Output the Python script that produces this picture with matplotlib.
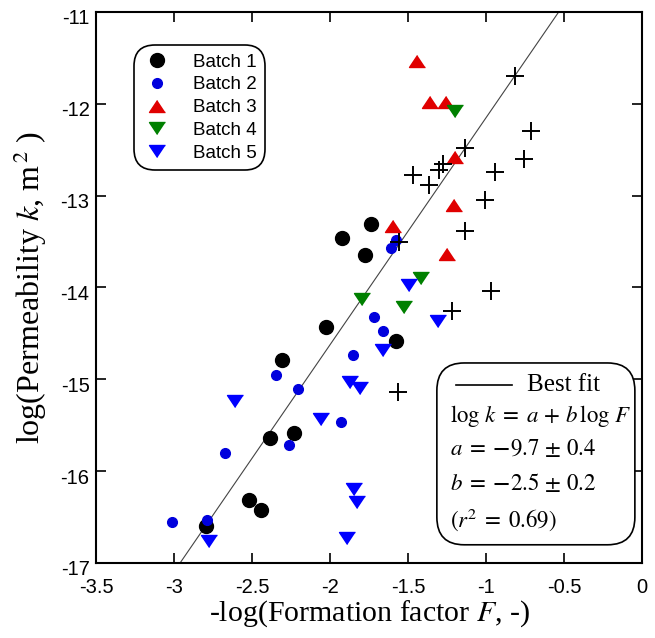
import matplotlib
matplotlib.use('Agg')
import matplotlib.pyplot as plt
from matplotlib.patches import FancyBboxPatch
from matplotlib.transforms import ScaledTranslation

plt.rcParams['font.family'] = ['Liberation Sans', 'DejaVu Sans']
plt.rcParams['mathtext.fontset'] = 'stix'

# Data (x = -log F, y = log k)
b1_x = [-1.740, -1.922, -1.776, -2.027, -1.580, -2.310, -2.386, -2.233, -2.523, -2.447, -2.797]
b1_y = [-13.31, -13.46, -13.65, -14.43, -14.58, -14.79, -15.64, -15.59, -16.31, -16.42, -16.60]

b2_x = [-1.580, -1.610, -1.717, -1.662, -1.856, -2.345, -2.210, -1.929, -2.265, -2.678, -2.790, -3.018]
b2_y = [-13.48, -13.57, -14.32, -14.47, -14.74, -14.95, -15.11, -15.47, -15.72, -15.80, -16.53, -16.55]

b3_x = [-1.445, -1.358, -1.256, -1.199, -1.203, -1.598, -1.251]
b3_y = [-11.53, -11.98, -11.98, -12.58, -13.10, -13.33, -13.64]

b4_x = [-1.199, -1.416, -1.799, -1.530]
b4_y = [-12.08, -13.90, -14.13, -14.21]

b5_x = [-1.495, -1.306, -1.662, -1.872, -1.808, -2.610, -2.062, -1.849, -1.831, -1.895, -2.781]
b5_y = [-13.97, -14.37, -14.68, -15.03, -15.09, -15.24, -15.43, -16.19, -16.34, -16.73, -16.76]

other_x = [-0.817, -0.712, -1.137, -0.758, -1.466, -1.301, -1.279, -1.365, -0.941, -1.005,
           -1.137, -1.557, -0.966, -1.221, -1.568]
other_y = [-11.70, -12.30, -12.48, -12.60, -12.78, -12.72, -12.66, -12.88, -12.74, -13.05,
           -13.39, -13.50, -14.04, -14.26, -15.14]

# drawn fit line: log k = a + b * x
line_a = -9.68
line_b = 2.47
line_x = [-3.1, -0.4]

xticks = [-3.5, -3, -2.5, -2, -1.5, -1, -0.5, 0]
xtick_labels = ['-3.5', '-3', '-2.5', '-2', '-1.5', '-1', '-0.5', '0']
yticks = [-17, -16, -15, -14, -13, -12, -11]
ytick_labels = ['-17', '-16', '-15', '-14', '-13', '-12', '-11']

# slightly flattened triangles like the reference
tri_up = [(0, 0.75), (-1, -0.75), (1, -0.75)]
tri_dn = [(0, -0.75), (-1, 0.75), (1, 0.75)]

fig = plt.figure(figsize=(6.55, 6.38), dpi=100)
ax = fig.add_axes([0.1473, 0.1176, 0.8328, 0.8636])

ax.plot(line_x, [line_a + line_b * v for v in line_x], color='#444444', lw=0.8, zorder=1)

ax.plot(b1_x, b1_y, 'o', color='black', ms=10, ls='none', label='Batch 1', zorder=3)
ax.plot(b2_x, b2_y, 'o', color='#0000dd', ms=7, ls='none', label='Batch 2', zorder=3)
ax.plot(b3_x, b3_y, marker=tri_up, color='#e00000', ms=11.5, ls='none', label='Batch 3', zorder=3)
ax.plot(b4_x, b4_y, marker=tri_dn, color='#008000', ms=11.5, ls='none', label='Batch 4', zorder=3)
ax.plot(b5_x, b5_y, marker=tri_dn, color='#0000ff', ms=11.5, ls='none', label='Batch 5', zorder=3)
ax.plot(other_x, other_y, '+', color='black', ms=13, mew=1.4, ls='none', zorder=4)

ax.set_xlim(-3.5, 0)
ax.set_ylim(-17, -11)
ax.set_xticks(xticks)
ax.set_xticklabels(xtick_labels)
ax.set_yticks(yticks)
ax.set_yticklabels(ytick_labels)
ax.tick_params(direction='in', top=True, right=True, length=7, width=1.2, labelsize=14.5)
ax.tick_params(axis='x', pad=11)
ax.tick_params(axis='y', pad=5)
shift = ScaledTranslation(0, -0.05, fig.dpi_scale_trans)
for lab in ax.get_yticklabels():
    lab.set_transform(lab.get_transform() + shift)
for s in ax.spines.values():
    s.set_linewidth(1.5)

serif = ['Liberation Serif', 'DejaVu Serif']
ax.set_xlabel(r'-log(Formation factor $F$, -)', family=serif, fontsize=21.5, labelpad=1)
ax.set_ylabel(r'log(Permeability $k$, m$^{\,2}$ )', family=serif, fontsize=23, labelpad=8)

leg = ax.legend(loc='upper left', bbox_to_anchor=(0.0687, 0.940), borderaxespad=0,
                fontsize=13.5, frameon=True, fancybox=True, edgecolor='black', framealpha=1,
                handletextpad=1.1, labelspacing=0.3, borderpad=0.45, numpoints=1,
                handlelength=1.6)
leg.get_frame().set_linewidth(1.2)
leg.get_frame().set_boxstyle('round', pad=0.0, rounding_size=1.1)

# fit box
box = FancyBboxPatch((0.624, 0.033), 0.363, 0.330, transform=ax.transAxes,
                     boxstyle='round,pad=0,rounding_size=0.05', fc='white', ec='black',
                     lw=1.2, zorder=5)
ax.add_patch(box)
ax.plot([0.659, 0.762], [0.323, 0.323], color='black', lw=1.2, transform=ax.transAxes, zorder=6)
ax.text(0.789, 0.323, 'Best fit', transform=ax.transAxes, family=serif, fontsize=18,
        va='center', zorder=6)
fit_lines = [r'$\log\,k\; =\; a\, +\, b\,\log\,F$', r'$a\; =\; \mathbf{-}9.7\, \pm\, 0.4$',
             r'$b\; =\; \mathbf{-}2.5\, \pm\, 0.2$', r'$(r^2\; =\; 0.69)$']
fit_y = [0.266, 0.206, 0.144, 0.078]
for txt, yy in zip(fit_lines, fit_y):
    ax.text(0.648, yy, txt, transform=ax.transAxes, family=serif, fontsize=16.5,
            va='center', zorder=6)

fig.savefig('out.png', dpi=100)
